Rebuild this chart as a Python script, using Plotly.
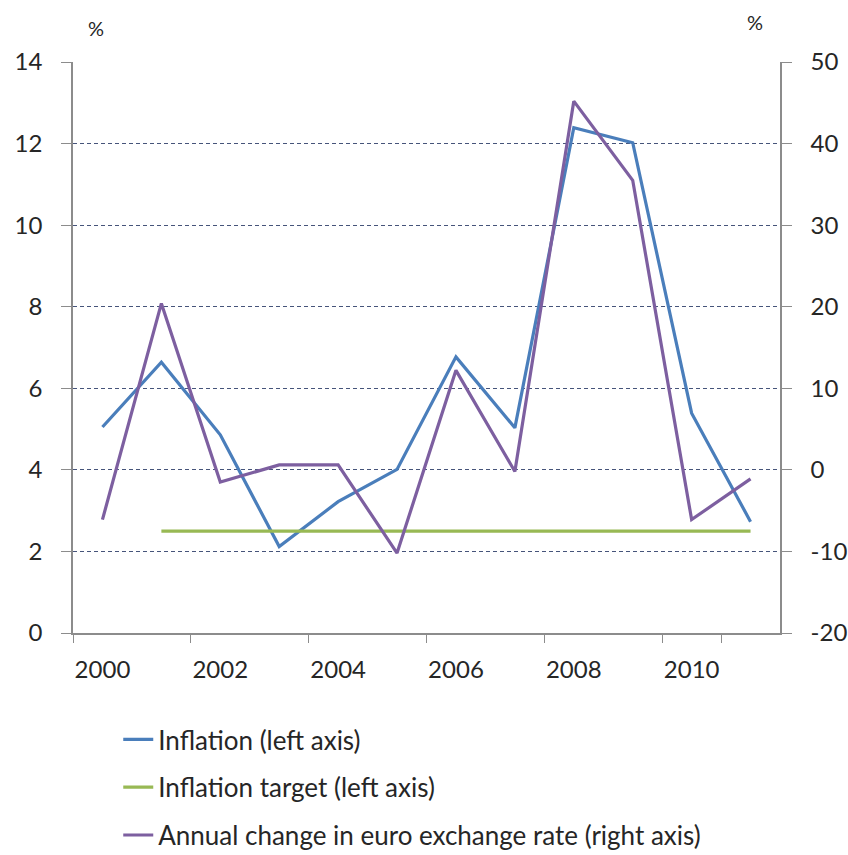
import plotly.graph_objects as go

# Annual data, 2000-2011
years = [str(y) for y in range(2000, 2012)]
inflation = [5.05, 6.64, 4.86, 2.12, 3.22, 4.01, 6.77, 5.03, 12.39, 12.02, 5.39, 2.73]
inflation_target = [None, 2.5, 2.5, 2.5, 2.5, 2.5, 2.5, 2.5, 2.5, 2.5, 2.5, 2.5]
euro_change = [-6.1, 20.4, -1.5, 0.6, 0.6, -10.2, 12.2, -0.2, 45.2, 35.5, -6.1, -1.1]

left_ticks = [0, 2, 4, 6, 8, 10, 12, 14]
right_ticks = [-20, -10, 0, 10, 20, 30, 40, 50]
right_labels = ["-20", "-10", "0", "10", "20", "30", "40", "50"]
x_labels = ["2000", "2002", "2004", "2006", "2008", "2010"]

FONT = "Lato, 'Open Sans', sans-serif"
TEXT = "#262626"
AXIS = "#8c8c8c"
GRID = "#46547a"

fig = go.Figure()
fig.add_trace(go.Scatter(
    x=years, y=inflation, mode="lines", name="Inflation (left axis)",
    line=dict(color="#4a7ebb", width=3.2), legendgroup="a", yaxis="y"))
fig.add_trace(go.Scatter(
    x=years, y=inflation_target, mode="lines", name="Inflation target (left axis)",
    line=dict(color="#98b954", width=3.2), legendgroup="b", yaxis="y"))
fig.add_trace(go.Scatter(
    x=years, y=euro_change, mode="lines",
    name="Annual change in euro exchange rate (right axis)",
    line=dict(color="#7d5fa0", width=3.2), legendgroup="c", yaxis="y2"))

fig.update_layout(
    width=848, height=855,
    margin=dict(l=73, r=68, t=62, b=222, pad=0, autoexpand=False),
    paper_bgcolor="white", plot_bgcolor="white",
    font=dict(family=FONT, size=24, color=TEXT),
    showlegend=True,
    legend=dict(
        orientation="v", x=0.064, xanchor="left",
        yref="container", y=1 - 716 / 855, yanchor="top",
        tracegroupgap=11, font=dict(family=FONT, size=26, color=TEXT),
        bgcolor="rgba(0,0,0,0)"),
    xaxis=dict(
        type="category", categoryorder="array", categoryarray=years,
        range=[-0.5, 11.5],
        tickmode="array", tickvals=x_labels, ticktext=x_labels,
        tickson="boundaries", ticks="outside", ticklen=8, tickcolor=AXIS,
        tickangle=0,
        showline=True, linecolor=AXIS, linewidth=1.5,
        showgrid=False, zeroline=False, automargin=False,
        ticklabelstandoff=14,
        tickfont=dict(family=FONT, size=24, color=TEXT)),
    yaxis=dict(
        range=[0, 14], tickvals=left_ticks, ticks="outside", ticklen=10,
        tickcolor=AXIS, showline=True, linecolor=AXIS, linewidth=1.5,
        showgrid=True, gridcolor=GRID, griddash="4px,3px", gridwidth=1,
        zeroline=False, ticklabelstandoff=14, automargin=False,
        tickfont=dict(family=FONT, size=24, color=TEXT)),
    yaxis2=dict(
        range=[-20, 50], tickvals=right_ticks, ticktext=right_labels,
        overlaying="y", side="right",
        ticks="outside", ticklen=10, tickcolor=AXIS, showline=True,
        linecolor=AXIS, linewidth=1.5, showgrid=False, zeroline=False,
        ticklabelstandoff=14, automargin=False,
        tickfont=dict(family=FONT, size=24, color=TEXT)),
    annotations=[
        dict(text="%", xref="paper", yref="paper", x=0.032, y=1.035,
             xanchor="center", yanchor="bottom", showarrow=False,
             font=dict(family=FONT, size=20, color=TEXT)),
        dict(text="%", xref="paper", yref="paper", x=0.965, y=1.045,
             xanchor="center", yanchor="bottom", showarrow=False,
             font=dict(family=FONT, size=20, color=TEXT)),
    ],
)

fig.write_html("out.html")
